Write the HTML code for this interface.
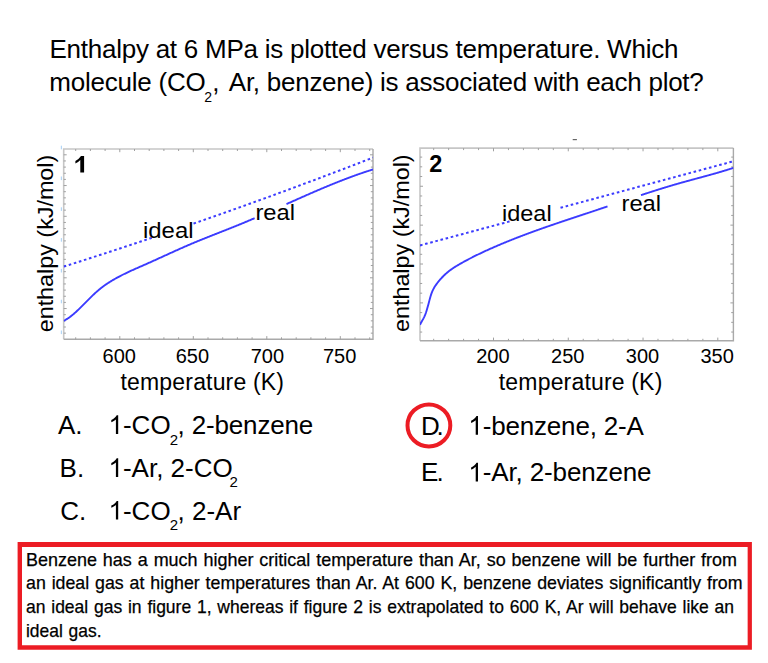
<!DOCTYPE html>
<html><head><meta charset="utf-8">
<style>
html,body{margin:0;padding:0;background:#fff;width:768px;height:663px;overflow:hidden}
svg{display:block;font-family:"Liberation Sans", sans-serif}
</style></head><body>
<svg width="768" height="663" viewBox="0 0 768 663">
<text x="49.4" y="58" font-size="26" textLength="629" lengthAdjust="spacing" >Enthalpy at 6 MPa is plotted versus temperature. Which</text>
<text x="49.3" y="91.3" font-size="26" textLength="156.4" lengthAdjust="spacing" >molecule (CO</text>
<text x="204.2" y="101.8" font-size="14" >2</text>
<text x="212.2" y="91.3" font-size="26" >,</text>
<text x="228.8" y="91.3" font-size="26" textLength="475" lengthAdjust="spacing" >Ar, benzene) is associated with each plot?</text>
<rect x="572.7" y="139" width="4.2" height="1.2" fill="#666"/>
<path d="M63.7,339.3 V149.0 H373.0" fill="none" stroke="#c6c6c6" stroke-width="1.6"/>
<path d="M63.7,339.3 H373.0 V149.0" fill="none" stroke="#a9a9a9" stroke-width="1.4"/>
<line x1="75.70" y1="339.3" x2="75.70" y2="337.3" stroke="#a0a0a0" stroke-width="1"/>
<line x1="75.70" y1="149.0" x2="75.70" y2="151.0" stroke="#a0a0a0" stroke-width="1"/>
<line x1="90.40" y1="339.3" x2="90.40" y2="337.3" stroke="#a0a0a0" stroke-width="1"/>
<line x1="90.40" y1="149.0" x2="90.40" y2="151.0" stroke="#a0a0a0" stroke-width="1"/>
<line x1="105.10" y1="339.3" x2="105.10" y2="337.3" stroke="#a0a0a0" stroke-width="1"/>
<line x1="105.10" y1="149.0" x2="105.10" y2="151.0" stroke="#a0a0a0" stroke-width="1"/>
<line x1="119.80" y1="339.3" x2="119.80" y2="336.1" stroke="#a0a0a0" stroke-width="1"/>
<line x1="119.80" y1="149.0" x2="119.80" y2="152.2" stroke="#a0a0a0" stroke-width="1"/>
<line x1="134.50" y1="339.3" x2="134.50" y2="337.3" stroke="#a0a0a0" stroke-width="1"/>
<line x1="134.50" y1="149.0" x2="134.50" y2="151.0" stroke="#a0a0a0" stroke-width="1"/>
<line x1="149.20" y1="339.3" x2="149.20" y2="337.3" stroke="#a0a0a0" stroke-width="1"/>
<line x1="149.20" y1="149.0" x2="149.20" y2="151.0" stroke="#a0a0a0" stroke-width="1"/>
<line x1="163.90" y1="339.3" x2="163.90" y2="337.3" stroke="#a0a0a0" stroke-width="1"/>
<line x1="163.90" y1="149.0" x2="163.90" y2="151.0" stroke="#a0a0a0" stroke-width="1"/>
<line x1="178.60" y1="339.3" x2="178.60" y2="337.3" stroke="#a0a0a0" stroke-width="1"/>
<line x1="178.60" y1="149.0" x2="178.60" y2="151.0" stroke="#a0a0a0" stroke-width="1"/>
<line x1="193.30" y1="339.3" x2="193.30" y2="336.1" stroke="#a0a0a0" stroke-width="1"/>
<line x1="193.30" y1="149.0" x2="193.30" y2="152.2" stroke="#a0a0a0" stroke-width="1"/>
<line x1="208.00" y1="339.3" x2="208.00" y2="337.3" stroke="#a0a0a0" stroke-width="1"/>
<line x1="208.00" y1="149.0" x2="208.00" y2="151.0" stroke="#a0a0a0" stroke-width="1"/>
<line x1="222.70" y1="339.3" x2="222.70" y2="337.3" stroke="#a0a0a0" stroke-width="1"/>
<line x1="222.70" y1="149.0" x2="222.70" y2="151.0" stroke="#a0a0a0" stroke-width="1"/>
<line x1="237.40" y1="339.3" x2="237.40" y2="337.3" stroke="#a0a0a0" stroke-width="1"/>
<line x1="237.40" y1="149.0" x2="237.40" y2="151.0" stroke="#a0a0a0" stroke-width="1"/>
<line x1="252.10" y1="339.3" x2="252.10" y2="337.3" stroke="#a0a0a0" stroke-width="1"/>
<line x1="252.10" y1="149.0" x2="252.10" y2="151.0" stroke="#a0a0a0" stroke-width="1"/>
<line x1="266.80" y1="339.3" x2="266.80" y2="336.1" stroke="#a0a0a0" stroke-width="1"/>
<line x1="266.80" y1="149.0" x2="266.80" y2="152.2" stroke="#a0a0a0" stroke-width="1"/>
<line x1="281.50" y1="339.3" x2="281.50" y2="337.3" stroke="#a0a0a0" stroke-width="1"/>
<line x1="281.50" y1="149.0" x2="281.50" y2="151.0" stroke="#a0a0a0" stroke-width="1"/>
<line x1="296.20" y1="339.3" x2="296.20" y2="337.3" stroke="#a0a0a0" stroke-width="1"/>
<line x1="296.20" y1="149.0" x2="296.20" y2="151.0" stroke="#a0a0a0" stroke-width="1"/>
<line x1="310.90" y1="339.3" x2="310.90" y2="337.3" stroke="#a0a0a0" stroke-width="1"/>
<line x1="310.90" y1="149.0" x2="310.90" y2="151.0" stroke="#a0a0a0" stroke-width="1"/>
<line x1="325.60" y1="339.3" x2="325.60" y2="337.3" stroke="#a0a0a0" stroke-width="1"/>
<line x1="325.60" y1="149.0" x2="325.60" y2="151.0" stroke="#a0a0a0" stroke-width="1"/>
<line x1="340.30" y1="339.3" x2="340.30" y2="336.1" stroke="#a0a0a0" stroke-width="1"/>
<line x1="340.30" y1="149.0" x2="340.30" y2="152.2" stroke="#a0a0a0" stroke-width="1"/>
<line x1="355.00" y1="339.3" x2="355.00" y2="337.3" stroke="#a0a0a0" stroke-width="1"/>
<line x1="355.00" y1="149.0" x2="355.00" y2="151.0" stroke="#a0a0a0" stroke-width="1"/>
<line x1="369.70" y1="339.3" x2="369.70" y2="337.3" stroke="#a0a0a0" stroke-width="1"/>
<line x1="369.70" y1="149.0" x2="369.70" y2="151.0" stroke="#a0a0a0" stroke-width="1"/>
<line x1="63.7" y1="154.80" x2="66.7" y2="154.80" stroke="#a0a0a0" stroke-width="1"/>
<line x1="373.0" y1="154.80" x2="370.0" y2="154.80" stroke="#a0a0a0" stroke-width="1"/>
<line x1="63.7" y1="160.95" x2="65.9" y2="160.95" stroke="#a0a0a0" stroke-width="1"/>
<line x1="373.0" y1="160.95" x2="370.8" y2="160.95" stroke="#a0a0a0" stroke-width="1"/>
<line x1="63.7" y1="167.10" x2="65.9" y2="167.10" stroke="#a0a0a0" stroke-width="1"/>
<line x1="373.0" y1="167.10" x2="370.8" y2="167.10" stroke="#a0a0a0" stroke-width="1"/>
<line x1="63.7" y1="173.25" x2="65.9" y2="173.25" stroke="#a0a0a0" stroke-width="1"/>
<line x1="373.0" y1="173.25" x2="370.8" y2="173.25" stroke="#a0a0a0" stroke-width="1"/>
<line x1="63.7" y1="179.40" x2="65.9" y2="179.40" stroke="#a0a0a0" stroke-width="1"/>
<line x1="373.0" y1="179.40" x2="370.8" y2="179.40" stroke="#a0a0a0" stroke-width="1"/>
<line x1="63.7" y1="185.55" x2="66.7" y2="185.55" stroke="#a0a0a0" stroke-width="1"/>
<line x1="373.0" y1="185.55" x2="370.0" y2="185.55" stroke="#a0a0a0" stroke-width="1"/>
<line x1="63.7" y1="191.70" x2="65.9" y2="191.70" stroke="#a0a0a0" stroke-width="1"/>
<line x1="373.0" y1="191.70" x2="370.8" y2="191.70" stroke="#a0a0a0" stroke-width="1"/>
<line x1="63.7" y1="197.85" x2="65.9" y2="197.85" stroke="#a0a0a0" stroke-width="1"/>
<line x1="373.0" y1="197.85" x2="370.8" y2="197.85" stroke="#a0a0a0" stroke-width="1"/>
<line x1="63.7" y1="204.00" x2="65.9" y2="204.00" stroke="#a0a0a0" stroke-width="1"/>
<line x1="373.0" y1="204.00" x2="370.8" y2="204.00" stroke="#a0a0a0" stroke-width="1"/>
<line x1="63.7" y1="210.15" x2="65.9" y2="210.15" stroke="#a0a0a0" stroke-width="1"/>
<line x1="373.0" y1="210.15" x2="370.8" y2="210.15" stroke="#a0a0a0" stroke-width="1"/>
<line x1="63.7" y1="216.30" x2="66.7" y2="216.30" stroke="#a0a0a0" stroke-width="1"/>
<line x1="373.0" y1="216.30" x2="370.0" y2="216.30" stroke="#a0a0a0" stroke-width="1"/>
<line x1="63.7" y1="222.45" x2="65.9" y2="222.45" stroke="#a0a0a0" stroke-width="1"/>
<line x1="373.0" y1="222.45" x2="370.8" y2="222.45" stroke="#a0a0a0" stroke-width="1"/>
<line x1="63.7" y1="228.60" x2="65.9" y2="228.60" stroke="#a0a0a0" stroke-width="1"/>
<line x1="373.0" y1="228.60" x2="370.8" y2="228.60" stroke="#a0a0a0" stroke-width="1"/>
<line x1="63.7" y1="234.75" x2="65.9" y2="234.75" stroke="#a0a0a0" stroke-width="1"/>
<line x1="373.0" y1="234.75" x2="370.8" y2="234.75" stroke="#a0a0a0" stroke-width="1"/>
<line x1="63.7" y1="240.90" x2="65.9" y2="240.90" stroke="#a0a0a0" stroke-width="1"/>
<line x1="373.0" y1="240.90" x2="370.8" y2="240.90" stroke="#a0a0a0" stroke-width="1"/>
<line x1="63.7" y1="247.05" x2="66.7" y2="247.05" stroke="#a0a0a0" stroke-width="1"/>
<line x1="373.0" y1="247.05" x2="370.0" y2="247.05" stroke="#a0a0a0" stroke-width="1"/>
<line x1="63.7" y1="253.20" x2="65.9" y2="253.20" stroke="#a0a0a0" stroke-width="1"/>
<line x1="373.0" y1="253.20" x2="370.8" y2="253.20" stroke="#a0a0a0" stroke-width="1"/>
<line x1="63.7" y1="259.35" x2="65.9" y2="259.35" stroke="#a0a0a0" stroke-width="1"/>
<line x1="373.0" y1="259.35" x2="370.8" y2="259.35" stroke="#a0a0a0" stroke-width="1"/>
<line x1="63.7" y1="265.50" x2="65.9" y2="265.50" stroke="#a0a0a0" stroke-width="1"/>
<line x1="373.0" y1="265.50" x2="370.8" y2="265.50" stroke="#a0a0a0" stroke-width="1"/>
<line x1="63.7" y1="271.65" x2="65.9" y2="271.65" stroke="#a0a0a0" stroke-width="1"/>
<line x1="373.0" y1="271.65" x2="370.8" y2="271.65" stroke="#a0a0a0" stroke-width="1"/>
<line x1="63.7" y1="277.80" x2="66.7" y2="277.80" stroke="#a0a0a0" stroke-width="1"/>
<line x1="373.0" y1="277.80" x2="370.0" y2="277.80" stroke="#a0a0a0" stroke-width="1"/>
<line x1="63.7" y1="283.95" x2="65.9" y2="283.95" stroke="#a0a0a0" stroke-width="1"/>
<line x1="373.0" y1="283.95" x2="370.8" y2="283.95" stroke="#a0a0a0" stroke-width="1"/>
<line x1="63.7" y1="290.10" x2="65.9" y2="290.10" stroke="#a0a0a0" stroke-width="1"/>
<line x1="373.0" y1="290.10" x2="370.8" y2="290.10" stroke="#a0a0a0" stroke-width="1"/>
<line x1="63.7" y1="296.25" x2="65.9" y2="296.25" stroke="#a0a0a0" stroke-width="1"/>
<line x1="373.0" y1="296.25" x2="370.8" y2="296.25" stroke="#a0a0a0" stroke-width="1"/>
<line x1="63.7" y1="302.40" x2="65.9" y2="302.40" stroke="#a0a0a0" stroke-width="1"/>
<line x1="373.0" y1="302.40" x2="370.8" y2="302.40" stroke="#a0a0a0" stroke-width="1"/>
<line x1="63.7" y1="308.55" x2="66.7" y2="308.55" stroke="#a0a0a0" stroke-width="1"/>
<line x1="373.0" y1="308.55" x2="370.0" y2="308.55" stroke="#a0a0a0" stroke-width="1"/>
<line x1="63.7" y1="314.70" x2="65.9" y2="314.70" stroke="#a0a0a0" stroke-width="1"/>
<line x1="373.0" y1="314.70" x2="370.8" y2="314.70" stroke="#a0a0a0" stroke-width="1"/>
<line x1="63.7" y1="320.85" x2="65.9" y2="320.85" stroke="#a0a0a0" stroke-width="1"/>
<line x1="373.0" y1="320.85" x2="370.8" y2="320.85" stroke="#a0a0a0" stroke-width="1"/>
<line x1="63.7" y1="327.00" x2="65.9" y2="327.00" stroke="#a0a0a0" stroke-width="1"/>
<line x1="373.0" y1="327.00" x2="370.8" y2="327.00" stroke="#a0a0a0" stroke-width="1"/>
<line x1="63.7" y1="333.15" x2="65.9" y2="333.15" stroke="#a0a0a0" stroke-width="1"/>
<line x1="373.0" y1="333.15" x2="370.8" y2="333.15" stroke="#a0a0a0" stroke-width="1"/>
<clipPath id="c1"><rect x="63.7" y="149.0" width="309.3" height="190.3"/></clipPath>
<g clip-path="url(#c1)">
<path d="M63.70,320.77 L64.20,320.53 L64.70,320.27 L65.20,320.01 L65.70,319.73 L66.20,319.44 L66.70,319.14 L67.20,318.83 L67.70,318.51 L68.20,318.18 L68.70,317.84 L69.20,317.49 L69.70,317.12 L70.20,316.76 L70.70,316.38 L71.20,315.99 L71.70,315.59 L72.20,315.19 L72.70,314.78 L73.20,314.36 L73.70,313.93 L74.20,313.50 L74.70,313.06 L75.20,312.62 L75.70,312.17 L76.20,311.71 L76.70,311.25 L77.20,310.78 L77.70,310.31 L78.20,309.83 L78.70,309.35 L79.20,308.87 L79.70,308.38 L80.20,307.89 L80.70,307.39 L81.20,306.90 L81.70,306.40 L82.20,305.90 L82.70,305.39 L83.20,304.89 L83.70,304.38 L84.20,303.88 L84.70,303.37 L85.20,302.86 L85.70,302.35 L86.20,301.84 L86.70,301.34 L87.20,300.83 L87.70,300.32 L88.20,299.82 L88.70,299.32 L89.20,298.82 L89.70,298.32 L90.20,297.82 L90.70,297.33 L91.20,296.84 L91.70,296.35 L92.20,295.87 L92.70,295.39 L93.20,294.92 L93.70,294.45 L94.20,293.98 L94.70,293.52 L95.20,293.06 L95.70,292.61 L96.20,292.16 L96.70,291.72 L97.20,291.28 L97.70,290.85 L98.20,290.42 L98.70,289.99 L99.20,289.58 L99.70,289.16 L100.20,288.75 L100.70,288.35 L101.20,287.95 L101.70,287.56 L102.20,287.18 L102.70,286.80 L103.20,286.42 L103.70,286.05 L104.20,285.69 L104.70,285.33 L105.20,284.98 L105.70,284.63 L106.20,284.29 L106.70,283.95 L107.20,283.61 L107.70,283.28 L108.20,282.96 L108.70,282.63 L109.20,282.32 L109.70,282.00 L110.20,281.69 L110.70,281.38 L111.20,281.08 L111.70,280.78 L112.20,280.48 L112.70,280.18 L113.20,279.89 L113.70,279.60 L114.20,279.31 L114.70,279.03 L115.20,278.75 L115.70,278.47 L116.20,278.19 L116.70,277.91 L117.20,277.64 L117.70,277.37 L118.20,277.10 L118.70,276.83 L119.20,276.57 L119.70,276.30 L120.20,276.04 L120.70,275.78 L121.20,275.53 L121.70,275.27 L122.20,275.02 L122.70,274.77 L123.20,274.52 L123.70,274.27 L124.20,274.02 L124.70,273.78 L125.20,273.53 L125.70,273.29 L126.20,273.05 L126.70,272.81 L127.20,272.57 L127.70,272.34 L128.20,272.10 L128.70,271.87 L129.20,271.63 L129.70,271.40 L130.20,271.17 L130.70,270.94 L131.20,270.71 L131.70,270.49 L132.20,270.26 L132.70,270.03 L133.20,269.81 L133.70,269.58 L134.20,269.36 L134.70,269.13 L135.20,268.91 L135.70,268.69 L136.20,268.47 L136.70,268.25 L137.20,268.03 L137.70,267.81 L138.20,267.58 L138.70,267.37 L139.20,267.15 L139.70,266.93 L140.20,266.71 L140.70,266.49 L141.20,266.27 L141.70,266.05 L142.20,265.83 L142.70,265.61 L143.20,265.39 L143.70,265.17 L144.20,264.95 L144.70,264.73 L145.20,264.51 L145.70,264.29 L146.20,264.07 L146.70,263.85 L147.20,263.63 L147.70,263.40 L148.20,263.18 L148.70,262.96 L149.20,262.73 L149.70,262.51 L150.20,262.29 L150.70,262.06 L151.20,261.84 L151.70,261.61 L152.20,261.39 L152.70,261.16 L153.20,260.94 L153.70,260.71 L154.20,260.48 L154.70,260.26 L155.20,260.03 L155.70,259.81 L156.20,259.58 L156.70,259.35 L157.20,259.12 L157.70,258.90 L158.20,258.67 L158.70,258.44 L159.20,258.21 L159.70,257.99 L160.20,257.76 L160.70,257.53 L161.20,257.30 L161.70,257.07 L162.20,256.85 L162.70,256.62 L163.20,256.39 L163.70,256.16 L164.20,255.93 L164.70,255.70 L165.20,255.48 L165.70,255.25 L166.20,255.02 L166.70,254.79 L167.20,254.56 L167.70,254.34 L168.20,254.11 L168.70,253.88 L169.20,253.65 L169.70,253.43 L170.20,253.20 L170.70,252.97 L171.20,252.74 L171.70,252.52 L172.20,252.29 L172.70,252.06 L173.20,251.84 L173.70,251.61 L174.20,251.38 L174.70,251.16 L175.20,250.93 L175.70,250.71 L176.20,250.48 L176.70,250.26 L177.20,250.03 L177.70,249.81 L178.20,249.59 L178.70,249.36 L179.20,249.14 L179.70,248.92 L180.20,248.69 L180.70,248.47 L181.20,248.25 L181.70,248.03 L182.20,247.81 L182.70,247.59 L183.20,247.37 L183.70,247.15 L184.20,246.93 L184.70,246.71 L185.20,246.49 L185.70,246.27 L186.20,246.05 L186.70,245.84 L187.20,245.62 L187.70,245.40 L188.20,245.19 L188.70,244.97 L189.20,244.76 L189.70,244.55 L190.20,244.33 L190.70,244.12 L191.20,243.91 L191.70,243.70 L192.20,243.48 L192.70,243.27 L193.20,243.06 L193.70,242.86 L194.20,242.65 L194.70,242.44 L195.20,242.23 L195.70,242.02 L196.20,241.82 L196.70,241.61 L197.20,241.40 L197.70,241.20 L198.20,240.99 L198.70,240.79 L199.20,240.58 L199.70,240.38 L200.20,240.17 L200.70,239.97 L201.20,239.77 L201.70,239.57 L202.20,239.36 L202.70,239.16 L203.20,238.96 L203.70,238.76 L204.20,238.56 L204.70,238.36 L205.20,238.16 L205.70,237.96 L206.20,237.76 L206.70,237.56 L207.20,237.36 L207.70,237.16 L208.20,236.96 L208.70,236.76 L209.20,236.56 L209.70,236.36 L210.20,236.17 L210.70,235.97 L211.20,235.77 L211.70,235.57 L212.20,235.37 L212.70,235.18 L213.20,234.98 L213.70,234.78 L214.20,234.59 L214.70,234.39 L215.20,234.19 L215.70,234.00 L216.20,233.80 L216.70,233.60 L217.20,233.41 L217.70,233.21 L218.20,233.01 L218.70,232.82 L219.20,232.62 L219.70,232.42 L220.20,232.23 L220.70,232.03 L221.20,231.83 L221.70,231.64 L222.20,231.44 L222.70,231.24 L223.20,231.05 L223.70,230.85 L224.20,230.65 L224.70,230.46 L225.20,230.26 L225.70,230.06 L226.20,229.86 L226.70,229.67 L227.20,229.47 L227.70,229.27 L228.20,229.07 L228.70,228.88 L229.20,228.68 L229.70,228.48 L230.20,228.28 L230.70,228.08 L231.20,227.88 L231.70,227.68 L232.20,227.48 L232.70,227.28 L233.20,227.08 L233.70,226.88 L234.20,226.68 L234.70,226.48 L235.20,226.28 L235.70,226.08 L236.20,225.87 L236.70,225.67 L237.20,225.47 L237.70,225.27 L238.20,225.06 L238.70,224.86 L239.20,224.66 L239.70,224.45 L240.20,224.25 L240.70,224.04 L241.20,223.83 L241.70,223.63 L242.20,223.42 L242.70,223.21 L243.20,223.01 L243.70,222.80 L244.20,222.59 L244.70,222.38 L245.20,222.17 L245.70,221.96 L246.20,221.75 L246.70,221.54 L247.20,221.33 L247.70,221.12 L248.20,220.91 L248.70,220.70 L249.20,220.49 L249.70,220.28 L250.20,220.06 L250.70,219.85 L251.20,219.64 L251.70,219.43 L252.20,219.21 L252.70,219.00 L253.20,218.78 L253.70,218.57 L254.20,218.35 L254.60,218.18" fill="none" stroke="#3b3bff" stroke-width="1.9" stroke-linecap="butt"/>
<path d="M286.50,204.08 L287.00,203.86 L287.50,203.63 L288.00,203.41 L288.50,203.19 L289.00,202.96 L289.50,202.74 L290.00,202.52 L290.50,202.29 L291.00,202.07 L291.50,201.84 L292.00,201.62 L292.50,201.40 L293.00,201.17 L293.50,200.95 L294.00,200.73 L294.50,200.51 L295.00,200.28 L295.50,200.06 L296.00,199.84 L296.50,199.61 L297.00,199.39 L297.50,199.17 L298.00,198.95 L298.50,198.72 L299.00,198.50 L299.50,198.28 L300.00,198.06 L300.50,197.84 L301.00,197.62 L301.50,197.39 L302.00,197.17 L302.50,196.95 L303.00,196.73 L303.50,196.51 L304.00,196.29 L304.50,196.07 L305.00,195.85 L305.50,195.63 L306.00,195.41 L306.50,195.19 L307.00,194.97 L307.50,194.75 L308.00,194.53 L308.50,194.31 L309.00,194.09 L309.50,193.87 L310.00,193.65 L310.50,193.44 L311.00,193.22 L311.50,193.00 L312.00,192.78 L312.50,192.57 L313.00,192.35 L313.50,192.13 L314.00,191.92 L314.50,191.70 L315.00,191.48 L315.50,191.27 L316.00,191.05 L316.50,190.84 L317.00,190.62 L317.50,190.41 L318.00,190.19 L318.50,189.98 L319.00,189.77 L319.50,189.55 L320.00,189.34 L320.50,189.13 L321.00,188.92 L321.50,188.70 L322.00,188.49 L322.50,188.28 L323.00,188.07 L323.50,187.86 L324.00,187.65 L324.50,187.44 L325.00,187.23 L325.50,187.02 L326.00,186.81 L326.50,186.60 L327.00,186.39 L327.50,186.19 L328.00,185.98 L328.50,185.77 L329.00,185.57 L329.50,185.36 L330.00,185.15 L330.50,184.95 L331.00,184.74 L331.50,184.54 L332.00,184.33 L332.50,184.13 L333.00,183.93 L333.50,183.72 L334.00,183.52 L334.50,183.32 L335.00,183.12 L335.50,182.92 L336.00,182.72 L336.50,182.52 L337.00,182.32 L337.50,182.12 L338.00,181.92 L338.50,181.72 L339.00,181.52 L339.50,181.33 L340.00,181.13 L340.50,180.93 L341.00,180.74 L341.50,180.54 L342.00,180.35 L342.50,180.15 L343.00,179.96 L343.50,179.77 L344.00,179.57 L344.50,179.38 L345.00,179.19 L345.50,179.00 L346.00,178.81 L346.50,178.62 L347.00,178.43 L347.50,178.24 L348.00,178.05 L348.50,177.86 L349.00,177.68 L349.50,177.49 L350.00,177.30 L350.50,177.12 L351.00,176.93 L351.50,176.75 L352.00,176.56 L352.50,176.38 L353.00,176.20 L353.50,176.02 L354.00,175.84 L354.50,175.66 L355.00,175.48 L355.50,175.30 L356.00,175.12 L356.50,174.94 L357.00,174.76 L357.50,174.59 L358.00,174.41 L358.50,174.23 L359.00,174.06 L359.50,173.89 L360.00,173.71 L360.50,173.54 L361.00,173.37 L361.50,173.20 L362.00,173.03 L362.50,172.86 L363.00,172.69 L363.50,172.52 L364.00,172.35 L364.50,172.18 L365.00,172.02 L365.50,171.85 L366.00,171.69 L366.50,171.52 L367.00,171.36 L367.50,171.20 L368.00,171.03 L368.50,170.87 L369.00,170.71 L369.50,170.55 L370.00,170.39 L370.50,170.24 L371.00,170.08 L371.50,169.92 L372.00,169.77 L372.50,169.61 L373.00,169.46" fill="none" stroke="#3b3bff" stroke-width="1.9" stroke-linecap="butt"/>
<path d="M63.70,266.59 L64.70,266.27 L65.70,265.95 L66.70,265.64 L67.70,265.32 L68.70,265.00 L69.70,264.69 L70.70,264.37 L71.70,264.05 L72.70,263.73 L73.70,263.41 L74.70,263.10 L75.70,262.78 L76.70,262.46 L77.70,262.14 L78.70,261.82 L79.70,261.50 L80.70,261.18 L81.70,260.86 L82.70,260.54 L83.70,260.22 L84.70,259.90 L85.70,259.58 L86.70,259.25 L87.70,258.93 L88.70,258.61 L89.70,258.29 L90.70,257.97 L91.70,257.64 L92.70,257.32 L93.70,257.00 L94.70,256.67 L95.70,256.35 L96.70,256.03 L97.70,255.70 L98.70,255.38 L99.70,255.05 L100.70,254.73 L101.70,254.41 L102.70,254.08 L103.70,253.75 L104.70,253.43 L105.70,253.10 L106.70,252.78 L107.70,252.45 L108.70,252.12 L109.70,251.80 L110.70,251.47 L111.70,251.14 L112.70,250.82 L113.70,250.49 L114.70,250.16 L115.70,249.83 L116.70,249.50 L117.70,249.18 L118.70,248.85 L119.70,248.52 L120.70,248.19 L121.70,247.86 L122.70,247.53 L123.70,247.20 L124.70,246.87 L125.70,246.54 L126.70,246.21 L127.70,245.88 L128.70,245.54 L129.70,245.21 L130.70,244.88 L131.70,244.55 L132.70,244.22 L133.70,243.88 L134.70,243.55 L135.70,243.22 L136.70,242.89 L137.70,242.55 L138.70,242.22 L139.70,241.89 L140.70,241.55 L141.70,241.22 L142.70,240.88 L143.70,240.55 L144.70,240.21 L145.70,239.88 L146.70,239.54 L147.70,239.21 L148.70,238.87 L149.70,238.53 L150.70,238.20 L151.70,237.86 L152.40,237.63" fill="none" stroke="#3b3bff" stroke-width="2" stroke-dasharray="2.6 2.7"/>
<path d="M193.50,223.58 L194.50,223.24 L195.50,222.89 L196.50,222.54 L197.50,222.19 L198.50,221.85 L199.50,221.50 L200.50,221.15 L201.50,220.80 L202.50,220.45 L203.50,220.10 L204.50,219.76 L205.50,219.41 L206.50,219.06 L207.50,218.71 L208.50,218.36 L209.50,218.01 L210.50,217.66 L211.50,217.31 L212.50,216.96 L213.50,216.60 L214.50,216.25 L215.50,215.90 L216.50,215.55 L217.50,215.20 L218.50,214.85 L219.50,214.49 L220.50,214.14 L221.50,213.79 L222.50,213.43 L223.50,213.08 L224.50,212.73 L225.50,212.37 L226.50,212.02 L227.50,211.66 L228.50,211.31 L229.50,210.96 L230.50,210.60 L231.50,210.25 L232.50,209.89 L233.50,209.53 L234.50,209.18 L235.50,208.82 L236.50,208.47 L237.50,208.11 L238.50,207.75 L239.50,207.39 L240.50,207.04 L241.50,206.68 L242.50,206.32 L243.50,205.96 L244.50,205.61 L245.50,205.25 L246.50,204.89 L247.50,204.53 L248.50,204.17 L249.50,203.81 L250.50,203.45 L251.50,203.09 L252.50,202.73 L253.50,202.37 L254.50,202.01 L255.50,201.65 L256.50,201.29 L257.50,200.93 L258.50,200.56 L259.50,200.20 L260.50,199.84 L261.50,199.48 L262.50,199.11 L263.50,198.75 L264.50,198.39 L265.50,198.03 L266.50,197.66 L267.50,197.30 L268.50,196.93 L269.50,196.57 L270.50,196.21 L271.50,195.84 L272.50,195.48 L273.50,195.11 L274.50,194.75 L275.50,194.38 L276.50,194.01 L277.50,193.65 L278.50,193.28 L279.50,192.92 L280.50,192.55 L281.50,192.18 L282.50,191.81 L283.50,191.45 L284.50,191.08 L285.50,190.71 L286.50,190.34 L287.50,189.97 L288.50,189.61 L289.50,189.24 L290.50,188.87 L291.50,188.50 L292.50,188.13 L293.50,187.76 L294.50,187.39 L295.50,187.02 L296.50,186.65 L297.50,186.28 L298.50,185.91 L299.50,185.54 L300.50,185.16 L301.50,184.79 L302.50,184.42 L303.50,184.05 L304.50,183.68 L305.50,183.30 L306.50,182.93 L307.50,182.56 L308.50,182.18 L309.50,181.81 L310.50,181.44 L311.50,181.06 L312.50,180.69 L313.50,180.31 L314.50,179.94 L315.50,179.56 L316.50,179.19 L317.50,178.81 L318.50,178.44 L319.50,178.06 L320.50,177.69 L321.50,177.31 L322.50,176.93 L323.50,176.56 L324.50,176.18 L325.50,175.80 L326.50,175.42 L327.50,175.05 L328.50,174.67 L329.50,174.29 L330.50,173.91 L331.50,173.53 L332.50,173.15 L333.50,172.78 L334.50,172.40 L335.50,172.02 L336.50,171.64 L337.50,171.26 L338.50,170.88 L339.50,170.50 L340.50,170.11 L341.50,169.73 L342.50,169.35 L343.50,168.97 L344.50,168.59 L345.50,168.21 L346.50,167.82 L347.50,167.44 L348.50,167.06 L349.50,166.68 L350.50,166.29 L351.50,165.91 L352.50,165.53 L353.50,165.14 L354.50,164.76 L355.50,164.37 L356.50,163.99 L357.50,163.60 L358.50,163.22 L359.50,162.83 L360.50,162.45 L361.50,162.06 L362.50,161.68 L363.50,161.29 L364.50,160.90 L365.50,160.52 L366.50,160.13 L367.50,159.74 L368.50,159.36 L369.50,158.97 L370.50,158.58 L371.50,158.19 L372.50,157.80 L373.00,157.61" fill="none" stroke="#3b3bff" stroke-width="2" stroke-dasharray="2.6 2.7"/>
</g>
<text x="143.0" y="238.3" font-size="22.3" textLength="50.5" lengthAdjust="spacingAndGlyphs" >ideal</text>
<text x="255.4" y="220" font-size="22.3" textLength="39.6" lengthAdjust="spacingAndGlyphs" >real</text>
<path d="M80.3,172.6 L84.1,172.6 L84.1,156.0 L81.0,156.0 Q79.2,158.9 75.4,160.9 L75.4,163.6 Q78.3,162.4 80.3,160.1 Z" fill="#000"/>
<text x="0" y="0" font-size="22" textLength="177.6" lengthAdjust="spacingAndGlyphs" transform="translate(53,332.3) rotate(-90)">enthalpy (kJ/mol)</text>
<text x="120.5" y="389.7" font-size="23" textLength="163.5" lengthAdjust="spacing" >temperature (K)</text>
<text x="119.3" y="362.5" font-size="20" text-anchor="middle">600</text>
<text x="192.4" y="362.5" font-size="20" text-anchor="middle">650</text>
<text x="267.4" y="362.5" font-size="20" text-anchor="middle">700</text>
<text x="339.7" y="362.5" font-size="20" text-anchor="middle">750</text>
<path d="M420.0,340.8 V148.1 H733.4" fill="none" stroke="#c6c6c6" stroke-width="1.6"/>
<path d="M420.0,340.8 H733.4 V148.1" fill="none" stroke="#a9a9a9" stroke-width="1.4"/>
<line x1="433.68" y1="340.8" x2="433.68" y2="338.8" stroke="#a0a0a0" stroke-width="1"/>
<line x1="433.68" y1="148.1" x2="433.68" y2="150.1" stroke="#a0a0a0" stroke-width="1"/>
<line x1="448.64" y1="340.8" x2="448.64" y2="338.8" stroke="#a0a0a0" stroke-width="1"/>
<line x1="448.64" y1="148.1" x2="448.64" y2="150.1" stroke="#a0a0a0" stroke-width="1"/>
<line x1="463.59" y1="340.8" x2="463.59" y2="338.8" stroke="#a0a0a0" stroke-width="1"/>
<line x1="463.59" y1="148.1" x2="463.59" y2="150.1" stroke="#a0a0a0" stroke-width="1"/>
<line x1="478.55" y1="340.8" x2="478.55" y2="338.8" stroke="#a0a0a0" stroke-width="1"/>
<line x1="478.55" y1="148.1" x2="478.55" y2="150.1" stroke="#a0a0a0" stroke-width="1"/>
<line x1="493.50" y1="340.8" x2="493.50" y2="337.6" stroke="#a0a0a0" stroke-width="1"/>
<line x1="493.50" y1="148.1" x2="493.50" y2="151.29999999999998" stroke="#a0a0a0" stroke-width="1"/>
<line x1="508.45" y1="340.8" x2="508.45" y2="338.8" stroke="#a0a0a0" stroke-width="1"/>
<line x1="508.45" y1="148.1" x2="508.45" y2="150.1" stroke="#a0a0a0" stroke-width="1"/>
<line x1="523.41" y1="340.8" x2="523.41" y2="338.8" stroke="#a0a0a0" stroke-width="1"/>
<line x1="523.41" y1="148.1" x2="523.41" y2="150.1" stroke="#a0a0a0" stroke-width="1"/>
<line x1="538.36" y1="340.8" x2="538.36" y2="338.8" stroke="#a0a0a0" stroke-width="1"/>
<line x1="538.36" y1="148.1" x2="538.36" y2="150.1" stroke="#a0a0a0" stroke-width="1"/>
<line x1="553.32" y1="340.8" x2="553.32" y2="338.8" stroke="#a0a0a0" stroke-width="1"/>
<line x1="553.32" y1="148.1" x2="553.32" y2="150.1" stroke="#a0a0a0" stroke-width="1"/>
<line x1="568.27" y1="340.8" x2="568.27" y2="337.6" stroke="#a0a0a0" stroke-width="1"/>
<line x1="568.27" y1="148.1" x2="568.27" y2="151.29999999999998" stroke="#a0a0a0" stroke-width="1"/>
<line x1="583.22" y1="340.8" x2="583.22" y2="338.8" stroke="#a0a0a0" stroke-width="1"/>
<line x1="583.22" y1="148.1" x2="583.22" y2="150.1" stroke="#a0a0a0" stroke-width="1"/>
<line x1="598.18" y1="340.8" x2="598.18" y2="338.8" stroke="#a0a0a0" stroke-width="1"/>
<line x1="598.18" y1="148.1" x2="598.18" y2="150.1" stroke="#a0a0a0" stroke-width="1"/>
<line x1="613.13" y1="340.8" x2="613.13" y2="338.8" stroke="#a0a0a0" stroke-width="1"/>
<line x1="613.13" y1="148.1" x2="613.13" y2="150.1" stroke="#a0a0a0" stroke-width="1"/>
<line x1="628.09" y1="340.8" x2="628.09" y2="338.8" stroke="#a0a0a0" stroke-width="1"/>
<line x1="628.09" y1="148.1" x2="628.09" y2="150.1" stroke="#a0a0a0" stroke-width="1"/>
<line x1="643.04" y1="340.8" x2="643.04" y2="337.6" stroke="#a0a0a0" stroke-width="1"/>
<line x1="643.04" y1="148.1" x2="643.04" y2="151.29999999999998" stroke="#a0a0a0" stroke-width="1"/>
<line x1="657.99" y1="340.8" x2="657.99" y2="338.8" stroke="#a0a0a0" stroke-width="1"/>
<line x1="657.99" y1="148.1" x2="657.99" y2="150.1" stroke="#a0a0a0" stroke-width="1"/>
<line x1="672.95" y1="340.8" x2="672.95" y2="338.8" stroke="#a0a0a0" stroke-width="1"/>
<line x1="672.95" y1="148.1" x2="672.95" y2="150.1" stroke="#a0a0a0" stroke-width="1"/>
<line x1="687.90" y1="340.8" x2="687.90" y2="338.8" stroke="#a0a0a0" stroke-width="1"/>
<line x1="687.90" y1="148.1" x2="687.90" y2="150.1" stroke="#a0a0a0" stroke-width="1"/>
<line x1="702.86" y1="340.8" x2="702.86" y2="338.8" stroke="#a0a0a0" stroke-width="1"/>
<line x1="702.86" y1="148.1" x2="702.86" y2="150.1" stroke="#a0a0a0" stroke-width="1"/>
<line x1="717.81" y1="340.8" x2="717.81" y2="337.6" stroke="#a0a0a0" stroke-width="1"/>
<line x1="717.81" y1="148.1" x2="717.81" y2="151.29999999999998" stroke="#a0a0a0" stroke-width="1"/>
<line x1="420.0" y1="157.10" x2="422.2" y2="157.10" stroke="#a0a0a0" stroke-width="1"/>
<line x1="733.4" y1="157.10" x2="731.1999999999999" y2="157.10" stroke="#a0a0a0" stroke-width="1"/>
<line x1="420.0" y1="166.82" x2="422.2" y2="166.82" stroke="#a0a0a0" stroke-width="1"/>
<line x1="733.4" y1="166.82" x2="731.1999999999999" y2="166.82" stroke="#a0a0a0" stroke-width="1"/>
<line x1="420.0" y1="176.54" x2="422.2" y2="176.54" stroke="#a0a0a0" stroke-width="1"/>
<line x1="733.4" y1="176.54" x2="731.1999999999999" y2="176.54" stroke="#a0a0a0" stroke-width="1"/>
<line x1="420.0" y1="186.26" x2="423.0" y2="186.26" stroke="#a0a0a0" stroke-width="1"/>
<line x1="733.4" y1="186.26" x2="730.4" y2="186.26" stroke="#a0a0a0" stroke-width="1"/>
<line x1="420.0" y1="195.98" x2="422.2" y2="195.98" stroke="#a0a0a0" stroke-width="1"/>
<line x1="733.4" y1="195.98" x2="731.1999999999999" y2="195.98" stroke="#a0a0a0" stroke-width="1"/>
<line x1="420.0" y1="205.70" x2="422.2" y2="205.70" stroke="#a0a0a0" stroke-width="1"/>
<line x1="733.4" y1="205.70" x2="731.1999999999999" y2="205.70" stroke="#a0a0a0" stroke-width="1"/>
<line x1="420.0" y1="215.42" x2="422.2" y2="215.42" stroke="#a0a0a0" stroke-width="1"/>
<line x1="733.4" y1="215.42" x2="731.1999999999999" y2="215.42" stroke="#a0a0a0" stroke-width="1"/>
<line x1="420.0" y1="225.14" x2="423.0" y2="225.14" stroke="#a0a0a0" stroke-width="1"/>
<line x1="733.4" y1="225.14" x2="730.4" y2="225.14" stroke="#a0a0a0" stroke-width="1"/>
<line x1="420.0" y1="234.86" x2="422.2" y2="234.86" stroke="#a0a0a0" stroke-width="1"/>
<line x1="733.4" y1="234.86" x2="731.1999999999999" y2="234.86" stroke="#a0a0a0" stroke-width="1"/>
<line x1="420.0" y1="244.58" x2="422.2" y2="244.58" stroke="#a0a0a0" stroke-width="1"/>
<line x1="733.4" y1="244.58" x2="731.1999999999999" y2="244.58" stroke="#a0a0a0" stroke-width="1"/>
<line x1="420.0" y1="254.30" x2="422.2" y2="254.30" stroke="#a0a0a0" stroke-width="1"/>
<line x1="733.4" y1="254.30" x2="731.1999999999999" y2="254.30" stroke="#a0a0a0" stroke-width="1"/>
<line x1="420.0" y1="264.02" x2="423.0" y2="264.02" stroke="#a0a0a0" stroke-width="1"/>
<line x1="733.4" y1="264.02" x2="730.4" y2="264.02" stroke="#a0a0a0" stroke-width="1"/>
<line x1="420.0" y1="273.74" x2="422.2" y2="273.74" stroke="#a0a0a0" stroke-width="1"/>
<line x1="733.4" y1="273.74" x2="731.1999999999999" y2="273.74" stroke="#a0a0a0" stroke-width="1"/>
<line x1="420.0" y1="283.46" x2="422.2" y2="283.46" stroke="#a0a0a0" stroke-width="1"/>
<line x1="733.4" y1="283.46" x2="731.1999999999999" y2="283.46" stroke="#a0a0a0" stroke-width="1"/>
<line x1="420.0" y1="293.18" x2="422.2" y2="293.18" stroke="#a0a0a0" stroke-width="1"/>
<line x1="733.4" y1="293.18" x2="731.1999999999999" y2="293.18" stroke="#a0a0a0" stroke-width="1"/>
<line x1="420.0" y1="302.90" x2="423.0" y2="302.90" stroke="#a0a0a0" stroke-width="1"/>
<line x1="733.4" y1="302.90" x2="730.4" y2="302.90" stroke="#a0a0a0" stroke-width="1"/>
<line x1="420.0" y1="312.62" x2="422.2" y2="312.62" stroke="#a0a0a0" stroke-width="1"/>
<line x1="733.4" y1="312.62" x2="731.1999999999999" y2="312.62" stroke="#a0a0a0" stroke-width="1"/>
<line x1="420.0" y1="322.34" x2="422.2" y2="322.34" stroke="#a0a0a0" stroke-width="1"/>
<line x1="733.4" y1="322.34" x2="731.1999999999999" y2="322.34" stroke="#a0a0a0" stroke-width="1"/>
<line x1="420.0" y1="332.06" x2="422.2" y2="332.06" stroke="#a0a0a0" stroke-width="1"/>
<line x1="733.4" y1="332.06" x2="731.1999999999999" y2="332.06" stroke="#a0a0a0" stroke-width="1"/>
<clipPath id="c2"><rect x="420.0" y="148.1" width="313.4" height="192.70000000000002"/></clipPath>
<g clip-path="url(#c2)">
<path d="M420.00,324.76 L420.50,323.72 L421.00,322.76 L421.50,321.86 L422.00,321.00 L422.50,320.14 L423.00,319.27 L423.50,318.37 L424.00,317.41 L424.50,316.37 L425.00,315.21 L425.50,313.93 L426.00,312.52 L426.50,310.98 L427.00,309.33 L427.50,307.60 L428.00,305.79 L428.50,303.93 L429.00,302.03 L429.50,300.13 L430.00,298.28 L430.50,296.52 L431.00,294.90 L431.50,293.44 L432.00,292.11 L432.50,290.92 L433.00,289.83 L433.50,288.84 L434.00,287.93 L434.50,287.08 L435.00,286.29 L435.50,285.54 L436.00,284.83 L436.50,284.14 L437.00,283.46 L437.50,282.80 L438.00,282.16 L438.50,281.53 L439.00,280.91 L439.50,280.31 L440.00,279.72 L440.50,279.14 L441.00,278.58 L441.50,278.03 L442.00,277.49 L442.50,276.97 L443.00,276.46 L443.50,275.95 L444.00,275.46 L444.50,274.98 L445.00,274.52 L445.50,274.06 L446.00,273.61 L446.50,273.17 L447.00,272.74 L447.50,272.32 L448.00,271.91 L448.50,271.51 L449.00,271.11 L449.50,270.73 L450.00,270.35 L450.50,269.98 L451.00,269.62 L451.50,269.26 L452.00,268.91 L452.50,268.56 L453.00,268.23 L453.50,267.89 L454.00,267.57 L454.50,267.24 L455.00,266.93 L455.50,266.61 L456.00,266.30 L456.50,266.00 L457.00,265.70 L457.50,265.40 L458.00,265.10 L458.50,264.81 L459.00,264.52 L459.50,264.23 L460.00,263.94 L460.50,263.66 L461.00,263.38 L461.50,263.09 L462.00,262.81 L462.50,262.53 L463.00,262.25 L463.50,261.98 L464.00,261.70 L464.50,261.43 L465.00,261.16 L465.50,260.89 L466.00,260.62 L466.50,260.35 L467.00,260.08 L467.50,259.81 L468.00,259.55 L468.50,259.28 L469.00,259.02 L469.50,258.76 L470.00,258.50 L470.50,258.24 L471.00,257.98 L471.50,257.73 L472.00,257.47 L472.50,257.22 L473.00,256.97 L473.50,256.71 L474.00,256.46 L474.50,256.21 L475.00,255.96 L475.50,255.72 L476.00,255.47 L476.50,255.22 L477.00,254.98 L477.50,254.74 L478.00,254.49 L478.50,254.25 L479.00,254.01 L479.50,253.77 L480.00,253.53 L480.50,253.29 L481.00,253.06 L481.50,252.82 L482.00,252.58 L482.50,252.35 L483.00,252.12 L483.50,251.88 L484.00,251.65 L484.50,251.42 L485.00,251.19 L485.50,250.96 L486.00,250.73 L486.50,250.50 L487.00,250.28 L487.50,250.05 L488.00,249.82 L488.50,249.60 L489.00,249.37 L489.50,249.15 L490.00,248.92 L490.50,248.70 L491.00,248.48 L491.50,248.26 L492.00,248.04 L492.50,247.82 L493.00,247.60 L493.50,247.38 L494.00,247.16 L494.50,246.94 L495.00,246.72 L495.50,246.51 L496.00,246.29 L496.50,246.08 L497.00,245.86 L497.50,245.65 L498.00,245.43 L498.50,245.22 L499.00,245.01 L499.50,244.79 L500.00,244.58 L500.50,244.37 L501.00,244.16 L501.50,243.95 L502.00,243.74 L502.50,243.53 L503.00,243.33 L503.50,243.12 L504.00,242.91 L504.50,242.70 L505.00,242.50 L505.50,242.29 L506.00,242.09 L506.50,241.88 L507.00,241.68 L507.50,241.47 L508.00,241.27 L508.50,241.07 L509.00,240.87 L509.50,240.67 L510.00,240.46 L510.50,240.26 L511.00,240.06 L511.50,239.86 L512.00,239.67 L512.50,239.47 L513.00,239.27 L513.50,239.07 L514.00,238.87 L514.50,238.68 L515.00,238.48 L515.50,238.29 L516.00,238.09 L516.50,237.90 L517.00,237.70 L517.50,237.51 L518.00,237.31 L518.50,237.12 L519.00,236.93 L519.50,236.74 L520.00,236.54 L520.50,236.35 L521.00,236.16 L521.50,235.97 L522.00,235.78 L522.50,235.59 L523.00,235.40 L523.50,235.21 L524.00,235.02 L524.50,234.84 L525.00,234.65 L525.50,234.46 L526.00,234.27 L526.50,234.09 L527.00,233.90 L527.50,233.71 L528.00,233.53 L528.50,233.34 L529.00,233.16 L529.50,232.98 L530.00,232.79 L530.50,232.61 L531.00,232.42 L531.50,232.24 L532.00,232.06 L532.50,231.88 L533.00,231.69 L533.50,231.51 L534.00,231.33 L534.50,231.15 L535.00,230.97 L535.50,230.79 L536.00,230.61 L536.50,230.43 L537.00,230.25 L537.50,230.07 L538.00,229.89 L538.50,229.71 L539.00,229.54 L539.50,229.36 L540.00,229.18 L540.50,229.00 L541.00,228.83 L541.50,228.65 L542.00,228.47 L542.50,228.30 L543.00,228.12 L543.50,227.94 L544.00,227.77 L544.50,227.59 L545.00,227.42 L545.50,227.24 L546.00,227.07 L546.50,226.90 L547.00,226.72 L547.50,226.55 L548.00,226.37 L548.50,226.20 L549.00,226.03 L549.50,225.86 L550.00,225.68 L550.50,225.51 L551.00,225.34 L551.50,225.17 L552.00,224.99 L552.50,224.82 L553.00,224.65 L553.50,224.48 L554.00,224.31 L554.50,224.14 L555.00,223.97 L555.50,223.80 L556.00,223.63 L556.50,223.46 L557.00,223.29 L557.50,223.12 L558.00,222.95 L558.50,222.78 L559.00,222.61 L559.50,222.44 L560.00,222.27 L560.50,222.10 L561.00,221.93 L561.50,221.77 L562.00,221.60 L562.50,221.43 L563.00,221.26 L563.50,221.09 L564.00,220.92 L564.50,220.76 L565.00,220.59 L565.50,220.42 L566.00,220.25 L566.50,220.09 L567.00,219.92 L567.50,219.75 L568.00,219.59 L568.50,219.42 L569.00,219.25 L569.50,219.09 L570.00,218.92 L570.50,218.75 L571.00,218.59 L571.50,218.42 L572.00,218.25 L572.50,218.09 L573.00,217.92 L573.50,217.75 L574.00,217.59 L574.50,217.42 L575.00,217.26 L575.50,217.09 L576.00,216.92 L576.50,216.76 L577.00,216.59 L577.50,216.43 L578.00,216.26 L578.50,216.09 L579.00,215.93 L579.50,215.76 L580.00,215.60 L580.50,215.43 L581.00,215.27 L581.50,215.10 L582.00,214.93 L582.50,214.77 L583.00,214.60 L583.50,214.44 L584.00,214.27 L584.50,214.11 L585.00,213.94 L585.50,213.77 L586.00,213.61 L586.50,213.44 L587.00,213.28 L587.50,213.11 L588.00,212.94 L588.50,212.78 L589.00,212.61 L589.50,212.45 L590.00,212.28 L590.50,212.11 L591.00,211.95 L591.50,211.78 L592.00,211.61 L592.50,211.45 L593.00,211.28 L593.50,211.11 L594.00,210.95 L594.50,210.78 L595.00,210.61 L595.50,210.45 L596.00,210.28 L596.50,210.11 L597.00,209.94 L597.50,209.78 L598.00,209.61 L598.50,209.44 L599.00,209.27 L599.50,209.10 L600.00,208.94 L600.50,208.77 L601.00,208.60 L601.50,208.43 L602.00,208.26 L602.50,208.10 L603.00,207.93 L603.50,207.76 L604.00,207.59 L604.50,207.42 L605.00,207.25 L605.50,207.08 L606.00,206.91 L606.50,206.75 L607.00,206.58 L607.50,206.41" fill="none" stroke="#3b3bff" stroke-width="1.9" stroke-linecap="butt"/>
<path d="M641.00,195.15 L641.50,194.99 L642.00,194.82 L642.50,194.66 L643.00,194.50 L643.50,194.33 L644.00,194.17 L644.50,194.00 L645.00,193.84 L645.50,193.68 L646.00,193.52 L646.50,193.35 L647.00,193.19 L647.50,193.03 L648.00,192.87 L648.50,192.70 L649.00,192.54 L649.50,192.38 L650.00,192.22 L650.50,192.06 L651.00,191.90 L651.50,191.74 L652.00,191.58 L652.50,191.42 L653.00,191.26 L653.50,191.10 L654.00,190.94 L654.50,190.78 L655.00,190.62 L655.50,190.46 L656.00,190.31 L656.50,190.15 L657.00,189.99 L657.50,189.83 L658.00,189.68 L658.50,189.52 L659.00,189.36 L659.50,189.21 L660.00,189.05 L660.50,188.90 L661.00,188.74 L661.50,188.58 L662.00,188.43 L662.50,188.28 L663.00,188.12 L663.50,187.97 L664.00,187.81 L664.50,187.66 L665.00,187.51 L665.50,187.36 L666.00,187.20 L666.50,187.05 L667.00,186.90 L667.50,186.75 L668.00,186.60 L668.50,186.45 L669.00,186.30 L669.50,186.15 L670.00,186.00 L670.50,185.85 L671.00,185.70 L671.50,185.55 L672.00,185.40 L672.50,185.26 L673.00,185.11 L673.50,184.96 L674.00,184.82 L674.50,184.67 L675.00,184.52 L675.50,184.38 L676.00,184.23 L676.50,184.09 L677.00,183.94 L677.50,183.80 L678.00,183.66 L678.50,183.51 L679.00,183.37 L679.50,183.23 L680.00,183.09 L680.50,182.95 L681.00,182.81 L681.50,182.66 L682.00,182.52 L682.50,182.38 L683.00,182.24 L683.50,182.11 L684.00,181.97 L684.50,181.83 L685.00,181.69 L685.50,181.55 L686.00,181.41 L686.50,181.28 L687.00,181.14 L687.50,181.00 L688.00,180.86 L688.50,180.73 L689.00,180.59 L689.50,180.46 L690.00,180.32 L690.50,180.18 L691.00,180.05 L691.50,179.91 L692.00,179.78 L692.50,179.64 L693.00,179.51 L693.50,179.37 L694.00,179.23 L694.50,179.10 L695.00,178.96 L695.50,178.83 L696.00,178.69 L696.50,178.56 L697.00,178.42 L697.50,178.29 L698.00,178.15 L698.50,178.02 L699.00,177.88 L699.50,177.75 L700.00,177.61 L700.50,177.48 L701.00,177.34 L701.50,177.21 L702.00,177.07 L702.50,176.94 L703.00,176.80 L703.50,176.67 L704.00,176.53 L704.50,176.39 L705.00,176.26 L705.50,176.12 L706.00,175.98 L706.50,175.85 L707.00,175.71 L707.50,175.57 L708.00,175.43 L708.50,175.30 L709.00,175.16 L709.50,175.02 L710.00,174.88 L710.50,174.74 L711.00,174.60 L711.50,174.46 L712.00,174.32 L712.50,174.18 L713.00,174.04 L713.50,173.90 L714.00,173.76 L714.50,173.62 L715.00,173.47 L715.50,173.33 L716.00,173.19 L716.50,173.05 L717.00,172.90 L717.50,172.76 L718.00,172.61 L718.50,172.47 L719.00,172.32 L719.50,172.17 L720.00,172.03 L720.50,171.88 L721.00,171.73 L721.50,171.58 L722.00,171.43 L722.50,171.28 L723.00,171.13 L723.50,170.98 L724.00,170.83 L724.50,170.68 L725.00,170.53 L725.50,170.37 L726.00,170.22 L726.50,170.06 L727.00,169.91 L727.50,169.75 L728.00,169.59 L728.50,169.44 L729.00,169.28 L729.50,169.12 L730.00,168.96 L730.50,168.80 L731.00,168.64 L731.50,168.48 L732.00,168.31 L732.50,168.15 L733.00,167.98 L733.40,167.85" fill="none" stroke="#3b3bff" stroke-width="1.9" stroke-linecap="butt"/>
<path d="M420.00,245.44 L421.00,245.17 L422.00,244.90 L423.00,244.64 L424.00,244.37 L425.00,244.10 L426.00,243.83 L427.00,243.56 L428.00,243.30 L429.00,243.03 L430.00,242.76 L431.00,242.49 L432.00,242.23 L433.00,241.96 L434.00,241.69 L435.00,241.42 L436.00,241.15 L437.00,240.89 L438.00,240.62 L439.00,240.35 L440.00,240.08 L441.00,239.82 L442.00,239.55 L443.00,239.28 L444.00,239.01 L445.00,238.74 L446.00,238.48 L447.00,238.21 L448.00,237.94 L449.00,237.67 L450.00,237.40 L451.00,237.14 L452.00,236.87 L453.00,236.60 L454.00,236.33 L455.00,236.07 L456.00,235.80 L457.00,235.53 L458.00,235.26 L459.00,234.99 L460.00,234.73 L461.00,234.46 L462.00,234.19 L463.00,233.92 L464.00,233.65 L465.00,233.39 L466.00,233.12 L467.00,232.85 L468.00,232.58 L469.00,232.31 L470.00,232.05 L471.00,231.78 L472.00,231.51 L473.00,231.24 L474.00,230.97 L475.00,230.71 L476.00,230.44 L477.00,230.17 L478.00,229.90 L479.00,229.63 L480.00,229.37 L481.00,229.10 L482.00,228.83 L483.00,228.56 L484.00,228.29 L485.00,228.03 L486.00,227.76 L487.00,227.49 L488.00,227.22 L489.00,226.95 L490.00,226.69 L491.00,226.42 L492.00,226.15 L493.00,225.88 L494.00,225.61 L495.00,225.35 L496.00,225.08 L497.00,224.81 L498.00,224.54 L499.00,224.27 L500.00,224.00 L501.00,223.74 L502.00,223.47 L503.00,223.20 L504.00,222.93 L505.00,222.66 L506.00,222.40 L507.00,222.13 L508.00,221.86 L509.00,221.59 L510.00,221.32 L510.50,221.19" fill="none" stroke="#3b3bff" stroke-width="2" stroke-dasharray="2.6 2.7"/>
<path d="M560.50,207.77 L561.50,207.51 L562.50,207.24 L563.50,206.97 L564.50,206.70 L565.50,206.43 L566.50,206.16 L567.50,205.89 L568.50,205.63 L569.50,205.36 L570.50,205.09 L571.50,204.82 L572.50,204.55 L573.50,204.28 L574.50,204.02 L575.50,203.75 L576.50,203.48 L577.50,203.21 L578.50,202.94 L579.50,202.67 L580.50,202.40 L581.50,202.14 L582.50,201.87 L583.50,201.60 L584.50,201.33 L585.50,201.06 L586.50,200.79 L587.50,200.52 L588.50,200.26 L589.50,199.99 L590.50,199.72 L591.50,199.45 L592.50,199.18 L593.50,198.91 L594.50,198.64 L595.50,198.38 L596.50,198.11 L597.50,197.84 L598.50,197.57 L599.50,197.30 L600.50,197.03 L601.50,196.76 L602.50,196.50 L603.50,196.23 L604.50,195.96 L605.50,195.69 L606.50,195.42 L607.50,195.15 L608.50,194.88 L609.50,194.62 L610.50,194.35 L611.50,194.08 L612.50,193.81 L613.50,193.54 L614.50,193.27 L615.50,193.00 L616.50,192.73 L617.50,192.47 L618.50,192.20 L619.50,191.93 L620.50,191.66 L621.50,191.39 L622.50,191.12 L623.50,190.85 L624.50,190.58 L625.50,190.32 L626.50,190.05 L627.50,189.78 L628.50,189.51 L629.50,189.24 L630.50,188.97 L631.50,188.70 L632.50,188.43 L633.50,188.17 L634.50,187.90 L635.50,187.63 L636.50,187.36 L637.50,187.09 L638.50,186.82 L639.50,186.55 L640.50,186.28 L641.50,186.02 L642.50,185.75 L643.50,185.48 L644.50,185.21 L645.50,184.94 L646.50,184.67 L647.50,184.40 L648.50,184.13 L649.50,183.86 L650.50,183.60 L651.50,183.33 L652.50,183.06 L653.50,182.79 L654.50,182.52 L655.50,182.25 L656.50,181.98 L657.50,181.71 L658.50,181.44 L659.50,181.18 L660.50,180.91 L661.50,180.64 L662.50,180.37 L663.50,180.10 L664.50,179.83 L665.50,179.56 L666.50,179.29 L667.50,179.02 L668.50,178.75 L669.50,178.49 L670.50,178.22 L671.50,177.95 L672.50,177.68 L673.50,177.41 L674.50,177.14 L675.50,176.87 L676.50,176.60 L677.50,176.33 L678.50,176.07 L679.50,175.80 L680.50,175.53 L681.50,175.26 L682.50,174.99 L683.50,174.72 L684.50,174.45 L685.50,174.18 L686.50,173.91 L687.50,173.64 L688.50,173.37 L689.50,173.11 L690.50,172.84 L691.50,172.57 L692.50,172.30 L693.50,172.03 L694.50,171.76 L695.50,171.49 L696.50,171.22 L697.50,170.95 L698.50,170.68 L699.50,170.41 L700.50,170.15 L701.50,169.88 L702.50,169.61 L703.50,169.34 L704.50,169.07 L705.50,168.80 L706.50,168.53 L707.50,168.26 L708.50,167.99 L709.50,167.72 L710.50,167.45 L711.50,167.19 L712.50,166.92 L713.50,166.65 L714.50,166.38 L715.50,166.11 L716.50,165.84 L717.50,165.57 L718.50,165.30 L719.50,165.03 L720.50,164.76 L721.50,164.49 L722.50,164.22 L723.50,163.95 L724.50,163.69 L725.50,163.42 L726.50,163.15 L727.50,162.88 L728.50,162.61 L729.50,162.34 L730.50,162.07 L731.50,161.80 L732.50,161.53 L733.40,161.29" fill="none" stroke="#3b3bff" stroke-width="2" stroke-dasharray="2.6 2.7"/>
</g>
<text x="502.0" y="221.3" font-size="22.3" textLength="49.6" lengthAdjust="spacingAndGlyphs" >ideal</text>
<text x="621.5" y="211" font-size="22.3" textLength="39.6" lengthAdjust="spacingAndGlyphs" >real</text>
<text x="429.2" y="172.29999999999998" font-size="23.5" font-weight="bold" >2</text>
<text x="0" y="0" font-size="22" textLength="177.6" lengthAdjust="spacingAndGlyphs" transform="translate(409.4,332.0) rotate(-90)">enthalpy (kJ/mol)</text>
<text x="498.8" y="389.5" font-size="23" textLength="163.5" lengthAdjust="spacing" >temperature (K)</text>
<text x="492.85" y="362.5" font-size="20" text-anchor="middle">200</text>
<text x="567.75" y="362.5" font-size="20" text-anchor="middle">250</text>
<text x="642.5" y="362.5" font-size="20" text-anchor="middle">300</text>
<text x="717.15" y="362.5" font-size="20" text-anchor="middle">350</text>
<rect x="60.8" y="145.7" width="1.2" height="3.6" fill="#b4d6f5"/>
<rect x="60.8" y="176.5" width="1.2" height="3.6" fill="#b4d6f5"/>
<rect x="60.8" y="207.3" width="1.2" height="3.6" fill="#b4d6f5"/>
<rect x="60.8" y="238.1" width="1.2" height="3.6" fill="#b4d6f5"/>
<rect x="60.8" y="268.9" width="1.2" height="3.6" fill="#b4d6f5"/>
<rect x="60.8" y="299.7" width="1.2" height="3.6" fill="#b4d6f5"/>
<rect x="60.8" y="330.5" width="1.2" height="3.6" fill="#b4d6f5"/>
<text x="58.0" y="434.4" font-size="26" >A.</text>
<path d="M763,0 H583 V1147 Q518,1085 412,1023 Q306,961 221,930 V1104 Q372,1175 485,1276 Q598,1377 645,1472 H763 Z" transform="translate(108.5,434.0) scale(0.01270,-0.01270)" fill="#000"/>
<text x="122.956" y="434.0" font-size="26" >-CO</text>
<text x="169.8" y="445.2" font-size="15" >2</text>
<text x="177.5" y="434.0" font-size="26" textLength="135.8" lengthAdjust="spacing" >, 2-benzene</text>
<text x="59.6" y="477.0" font-size="26" >B.</text>
<path d="M763,0 H583 V1147 Q518,1085 412,1023 Q306,961 221,930 V1104 Q372,1175 485,1276 Q598,1377 645,1472 H763 Z" transform="translate(108.5,477.0) scale(0.01270,-0.01270)" fill="#000"/>
<text x="122.956" y="477.0" font-size="26" >-Ar, 2-CO</text>
<text x="229.6" y="486.5" font-size="15" >2</text>
<text x="60.2" y="519.6" font-size="26" >C.</text>
<path d="M763,0 H583 V1147 Q518,1085 412,1023 Q306,961 221,930 V1104 Q372,1175 485,1276 Q598,1377 645,1472 H763 Z" transform="translate(108.5,519.6) scale(0.01270,-0.01270)" fill="#000"/>
<text x="122.956" y="519.6" font-size="26" >-CO</text>
<text x="169.8" y="530.0" font-size="15" >2</text>
<text x="177.5" y="519.6" font-size="26" >, 2-Ar</text>
<text x="421.0" y="434.7" font-size="26" >D</text>
<text x="436.4" y="434.7" font-size="26" >.</text>
<path d="M763,0 H583 V1147 Q518,1085 412,1023 Q306,961 221,930 V1104 Q372,1175 485,1276 Q598,1377 645,1472 H763 Z" transform="translate(468.3,434.7) scale(0.01270,-0.01270)" fill="#000"/>
<text x="482.75600000000003" y="434.7" font-size="26" textLength="161.044" lengthAdjust="spacing" >-benzene, 2-A</text>
<text x="421.0" y="481.4" font-size="26" >E</text>
<text x="436.4" y="481.4" font-size="26" >.</text>
<path d="M763,0 H583 V1147 Q518,1085 412,1023 Q306,961 221,930 V1104 Q372,1175 485,1276 Q598,1377 645,1472 H763 Z" transform="translate(468.3,481.4) scale(0.01270,-0.01270)" fill="#000"/>
<text x="482.75600000000003" y="481.4" font-size="26" textLength="168.744" lengthAdjust="spacing" >-Ar, 2-benzene</text>
<ellipse cx="428.9" cy="425.4" rx="21.4" ry="21.0" fill="none" stroke="#ec1c24" stroke-width="4"/>
<path d="M17.6,542.1 H751.9 V649.7 H17.6 Z M22,546.9 V645.35 H747.65 V546.9 Z" fill="#ec1c24" fill-rule="evenodd"/>
<text x="26.0" y="565.9" font-size="18.5" textLength="711" lengthAdjust="spacingAndGlyphs" stroke="#000" stroke-width="0.25" style="word-spacing:1px">Benzene has a much higher critical temperature than Ar, so benzene will be further from</text>
<text x="26.0" y="589.0" font-size="18.5" textLength="716.5" lengthAdjust="spacingAndGlyphs" stroke="#000" stroke-width="0.25" style="word-spacing:1px">an ideal gas at higher temperatures than Ar. At 600 K, benzene deviates significantly from</text>
<text x="26.0" y="613.2" font-size="18.5" textLength="708" lengthAdjust="spacingAndGlyphs" stroke="#000" stroke-width="0.25" style="word-spacing:1px">an ideal gas in figure 1, whereas if figure 2 is extrapolated to 600 K, Ar will behave like an</text>
<text x="26.0" y="636.6" font-size="18.5" textLength="75.5" lengthAdjust="spacingAndGlyphs" stroke="#000" stroke-width="0.25" style="word-spacing:1px">ideal gas.</text>
</svg>
</body></html>
